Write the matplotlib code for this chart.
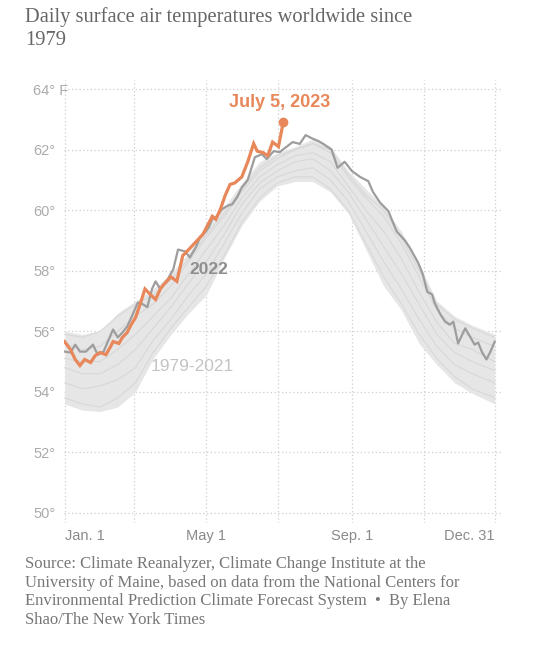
import matplotlib.pyplot as plt

# dias do ano (0 = 1 jan) usados para a faixa 1979-2021
band_days = [0, 15, 30, 45, 60, 75, 90, 105, 120, 135, 150, 165, 180,
             195, 210, 225, 240, 255, 270, 285, 300, 315, 330, 345, 364]

# limites da faixa 1979-2021 (°F)
band_low = [53.6, 53.4, 53.35, 53.5, 54.0, 55.1, 55.9, 56.6, 57.2, 58.4, 59.5, 60.3, 60.8,
            60.95, 60.95, 60.6, 59.9, 58.7, 57.5, 56.7, 55.6, 54.9, 54.3, 53.95, 53.6]
band_high = [56.0, 55.9, 56.0, 56.6, 57.0, 57.4, 57.9, 58.6, 59.4, 60.1, 60.9, 61.6, 61.9,
             62.1, 62.35, 62.1, 61.3, 60.7, 60.1, 59.3, 58.2, 57.0, 56.5, 56.2, 55.9]

# algumas linhas de anos antigos dentro da faixa
past_a = [53.8, 53.6, 53.5, 53.8, 54.3, 55.3, 56.1, 56.8, 57.5, 58.5, 59.6, 60.4, 60.9,
          61.1, 61.1, 60.7, 60.0, 58.9, 57.8, 56.9, 55.9, 55.1, 54.5, 54.1, 53.8]
past_b = [54.3, 54.1, 54.2, 54.4, 54.8, 55.7, 56.4, 57.2, 57.9, 58.9, 59.9, 60.7, 61.1,
          61.3, 61.4, 61.0, 60.3, 59.3, 58.3, 57.4, 56.4, 55.5, 54.9, 54.6, 54.3]
past_c = [54.8, 54.6, 54.6, 54.9, 55.4, 56.1, 56.8, 57.6, 58.3, 59.2, 60.2, 60.9, 61.3,
          61.6, 61.7, 61.3, 60.6, 59.7, 58.8, 57.9, 56.9, 55.9, 55.3, 55.0, 54.7]
past_d = [55.1, 55.0, 55.0, 55.4, 55.9, 56.5, 57.1, 57.9, 58.7, 59.5, 60.4, 61.1, 61.5,
          61.8, 61.9, 61.6, 60.8, 60.0, 59.3, 58.4, 57.3, 56.3, 55.6, 55.4, 55.0]
past_e = [55.6, 55.4, 55.5, 56.0, 56.5, 56.9, 57.5, 58.3, 59.1, 59.8, 60.6, 61.3, 61.7,
          62.0, 62.2, 61.9, 61.1, 60.4, 59.8, 58.9, 57.8, 56.7, 56.1, 55.8, 55.5]
past_f = [55.9, 55.8, 56.0, 56.5, 56.9, 57.2, 57.7, 58.4, 59.2, 59.9, 60.7, 61.4, 61.8,
          62.0, 62.2, 62.0, 61.2, 60.5, 60.0, 59.1, 58.0, 56.9, 56.4, 56.1, 55.8]

# 2022
days_2022 = [0, 5, 9, 13, 18, 24, 28, 33, 41, 45, 49, 53, 57, 62, 66, 70, 74, 77, 81, 87,
             92, 96, 102, 106, 111, 115, 119, 122, 125, 129, 133, 138, 142, 146, 150, 155,
             161, 167, 171, 177, 182, 188, 193, 199, 204, 209, 215, 219, 226, 231, 237, 243,
             250, 257, 261, 267, 274, 281, 288, 292, 299, 303, 307, 311, 313, 318, 322, 326,
             329, 333, 339, 343, 347, 350, 353, 357, 360, 364]
temp_2022 = [55.33, 55.3, 55.56, 55.33, 55.33, 55.56, 55.23, 55.33, 56.06, 55.8, 55.96, 56.16,
             56.5, 56.95, 56.9, 56.8, 57.4, 57.65, 57.4, 57.7, 58.05, 58.7, 58.64, 58.44, 58.77,
             59.14, 59.27, 59.43, 59.7, 59.8, 60.03, 60.15, 60.2, 60.43, 60.75, 61.0, 61.75,
             61.85, 61.69, 61.95, 61.92, 62.1, 62.25, 62.19, 62.48, 62.38, 62.28, 62.19, 62.0,
             61.4, 61.6, 61.3, 61.1, 60.96, 60.6, 60.25, 59.97, 59.3, 59.0, 58.77, 58.28, 57.9,
             57.3, 57.22, 56.95, 56.56, 56.32, 56.22, 56.32, 55.6, 56.1, 55.83, 55.56, 55.63,
             55.33, 55.07, 55.3, 55.66]

# 2023 (até 5 de julho)
days_2023 = [0, 5, 9, 13, 17, 22, 26, 30, 35, 39, 41, 46, 49, 53, 56, 60, 64, 68, 73, 77,
             81, 84, 90, 95, 100, 105, 111, 117, 121, 125, 128, 132, 136, 140, 144, 150, 155,
             160, 163, 168, 172, 176, 181, 185]
temp_2023 = [55.66, 55.4, 55.07, 54.87, 55.07, 54.97, 55.2, 55.3, 55.23, 55.5, 55.66, 55.6,
             55.8, 55.96, 56.2, 56.45, 56.9, 57.4, 57.2, 57.05, 57.4, 57.55, 57.8, 57.65, 58.5,
             58.7, 58.95, 59.2, 59.5, 59.8, 59.7, 60.05, 60.5, 60.85, 60.9, 61.1, 61.6, 62.2,
             61.95, 61.9, 61.8, 62.25, 62.1, 62.9]

grid_days = [0, 59, 120, 181, 243, 304, 364]
grid_labels = ['Jan. 1', '', 'May 1', '', 'Sep. 1', '', 'Dec. 31']
y_ticks = [50, 52, 54, 56, 58, 60, 62, 64]
y_labels = ['50°', '52°', '54°', '56°', '58°', '60°', '62°', '64° F']

laranja = '#e8875a'

fig = plt.figure(figsize=(5.35, 6.5), dpi=100)
ax = fig.add_axes([0.1196, 0.1954, 0.8206, 0.6815])

ax.fill_between(band_days, band_low, band_high, color='#e6e6e6', lw=0)
for linha in [past_a, past_b, past_c, past_d, past_e, past_f]:
    ax.plot(band_days, linha, color='#d8d8d8', lw=0.8)

ax.plot(days_2022, temp_2022, color='#9d9d9d', lw=1.6)
ax.plot(days_2023, temp_2023, color=laranja, lw=2.3, solid_joinstyle='miter')
ax.plot(days_2023[-1], temp_2023[-1], 'o', color=laranja, ms=6)

ax.text(182, 63.55, 'July 5, 2023', color=laranja, fontsize=13, fontweight='bold',
        ha='center', va='center', family='Liberation Sans')
ax.text(106, 58.05, '2022', color='#8e8e8e', fontsize=12.5, fontweight='bold',
        ha='left', va='center', family='Liberation Sans')
ax.text(72.5, 54.83, '1979-2021', color='#c4c4c4', fontsize=12.5,
        ha='left', va='center', family='Liberation Sans')

ax.set_xlim(-0.5, 371)
ax.set_ylim(49.67, 64.3)
ax.set_xticks(grid_days)
ax.set_xticklabels(grid_labels, color='#8a8a8a', fontsize=10.5, family='Liberation Sans')
xl = ax.get_xticklabels()
xl[0].set_ha('left')
xl[-1].set_ha('right')
ax.set_yticks(y_ticks)
ax.set_yticklabels(y_labels, color='#ababab', fontsize=10.5, family='Liberation Sans', ha='left')
ax.tick_params(axis='both', length=0)
ax.tick_params(axis='y', pad=22.3)
ax.tick_params(axis='x', pad=4)
ax.grid(True, color='#cfcfcf', linestyle=(0, (1, 2)), lw=0.9)
ax.set_axisbelow(True)
for lado in ax.spines.values():
    lado.set_visible(False)

fig.text(25 / 535, 1 - 7 / 650, 'Daily surface air temperatures worldwide since\n1979',
         color='#666666', fontsize=14.8, family='Liberation Serif', va='top', ha='left',
         linespacing=1.3)

fonte = ('Source: Climate Reanalyzer, Climate Change Institute at the\n'
         'University of Maine, based on data from the National Centers for\n'
         'Environmental Prediction Climate Forecast System  \u2022  By Elena\n'
         'Shao/The New York Times')
fig.text(25 / 535, 1 - 556 / 650, fonte, color='#777777', fontsize=12,
         family='Liberation Serif', va='top', ha='left', linespacing=1.22)

fig.savefig('out.png', dpi=100)
